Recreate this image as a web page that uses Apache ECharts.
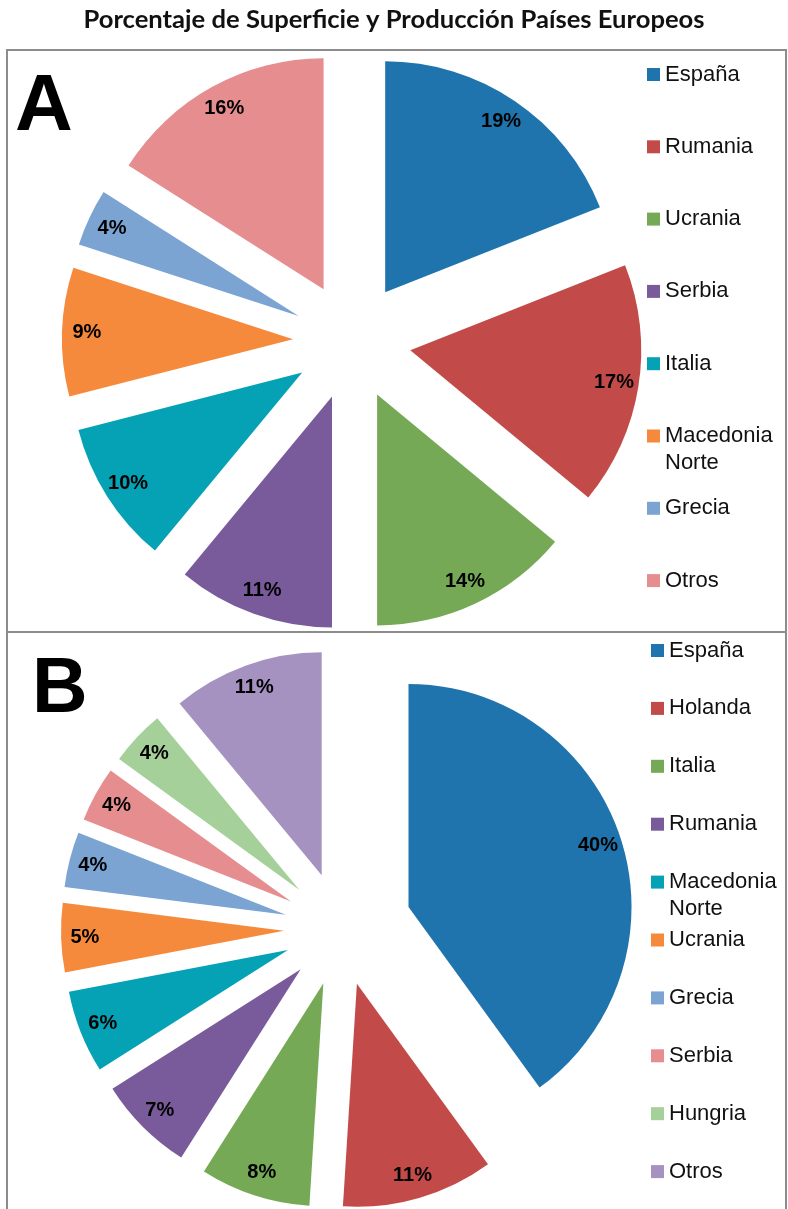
<!DOCTYPE html>
<html>
<head>
<meta charset="utf-8">
<script src="https://cdn.jsdelivr.net/npm/echarts@6/dist/echarts.min.js"></script>
<style>
  html, body { margin: 0; padding: 0; background: #fff; }
  #chart { width: 788px; height: 1209px; }
</style>
</head>
<body>
<div id="chart"></div>
<script>
var titleText = 'Porcentaje de Superficie y Producción Países Europeos';

// Panel A - superficie
var namesA = ['España', 'Rumania', 'Ucrania', 'Serbia', 'Italia', 'Macedonia\nNorte', 'Grecia', 'Otros'];
var valuesA = [19, 17, 14, 11, 10, 9, 4, 16];
var colorsA = ['#1f74ae', '#c24b4a', '#76a955', '#795b9b', '#05a2b6', '#f58a3c', '#7ba4d3', '#e68d90'];

// Panel B - produccion
var namesB = ['España', 'Holanda', 'Italia', 'Rumania', 'Macedonia\nNorte', 'Ucrania', 'Grecia', 'Serbia', 'Hungria', 'Otros'];
var valuesB = [40, 11, 8, 7, 6, 5, 4, 4, 4, 11];
var colorsB = ['#1f74ae', '#c24b4a', '#76a955', '#795b9b', '#05a2b6', '#f58a3c', '#7ba4d3', '#e68d90', '#a5d09a', '#a592c0'];

var labelFont = { color: '#000', fontWeight: 'bold', fontSize: 20, fontFamily: 'Liberation Sans, Arial, sans-serif' };

// two series per slice group: the coloured pieces and a transparent ring that carries the labels
function pieSeries(names, values, colors, keep, center, r, offset) {
    var fill = {
        type: 'pie', center: center, radius: r, startAngle: 90, clockwise: true,
        selectedMode: 'multiple', selectedOffset: offset, silent: true,
        avoidLabelOverlap: false,
        label: { show: false }, labelLine: { show: false },
        emphasis: { disabled: true },
        data: names.map(function (n, i) {
            return { name: n, value: values[i], selected: true,
                itemStyle: { color: keep(i) ? colors[i] : 'rgba(0,0,0,0)' } };
        })
    };
    var labels = {
        type: 'pie', center: center, radius: [r * 0.76, r], startAngle: 90, clockwise: true,
        selectedMode: 'multiple', selectedOffset: offset, silent: true,
        avoidLabelOverlap: false,
        labelLine: { show: false },
        emphasis: { disabled: true },
        itemStyle: { color: 'rgba(0,0,0,0)' },
        data: names.map(function (n, i) {
            return { name: n, value: values[i], selected: true,
                label: Object.assign({ show: keep(i), position: 'inside', formatter: '{c}%' }, labelFont) };
        })
    };
    return [fill, labels];
}

// every legend entry is 3 text lines tall so two-line names keep the first line next to the icon
function legendData(names, colors) {
    return names.map(function (n, i) {
        return {
            name: n,
            itemStyle: { color: colors[i] },
            textStyle: { padding: n.indexOf('\n') >= 0 ? [27, 0, 0, 0] : [27, 0, 27, 0] }
        };
    });
}

var legendText = {
    fontSize: 22, lineHeight: 27, color: '#111', fontFamily: 'Liberation Sans, Arial, sans-serif',
    rich: { t: { fontSize: 22, lineHeight: 27, color: '#111', fontFamily: 'Liberation Sans, Arial, sans-serif' } }
};
function legendFormatter(name) {
    return name.split('\n').map(function (s) { return '{t|' + s + '}'; }).join('\n');
}

var series = []
    .concat(pieSeries(namesA, valuesA, colorsA, function () { return true; }, [352, 341], 231, 59))
    .concat(pieSeries(namesB, valuesB, colorsB, function (i) { return i > 0; }, [341, 929], 223, 57))
    .concat(pieSeries(namesB, valuesB, colorsB, function (i) { return i === 0; }, [341, 929], 223, 71));

var option = {
    animation: false,
    backgroundColor: '#fff',
    title: {
        text: titleText, left: 'center', top: 2,
        textStyle: { fontSize: 25.6, fontWeight: 'bold', color: '#111', fontFamily: 'Lato, Open Sans, sans-serif' }
    },
    legend: [
        {
            orient: 'vertical', left: 647, top: 34, height: 700, padding: 0, itemGap: -8.7,
            itemWidth: 13, itemHeight: 13, icon: 'rect', selectedMode: false,
            formatter: legendFormatter, textStyle: legendText, data: legendData(namesA, colorsA)
        },
        {
            orient: 'vertical', left: 651, top: 610, height: 700, padding: 0, itemGap: -23.1,
            itemWidth: 13, itemHeight: 13, icon: 'rect', selectedMode: false,
            formatter: legendFormatter, textStyle: legendText, data: legendData(namesB, colorsB)
        }
    ],
    graphic: [
        { type: 'rect', shape: { x: 7, y: 50, width: 779, height: 1180 }, style: { fill: 'none', stroke: '#8c8c8c', lineWidth: 2 }, silent: true },
        { type: 'line', shape: { x1: 7, y1: 632, x2: 786, y2: 632 }, style: { stroke: '#8c8c8c', lineWidth: 2 }, silent: true },
        { type: 'text', left: 15, top: 68, style: { text: 'A', font: 'bold 80px Liberation Sans, Arial, sans-serif', fill: '#000' } },
        { type: 'text', left: 32, top: 652, style: { text: 'B', font: 'bold 77px Liberation Sans, Arial, sans-serif', fill: '#000' } }
    ],
    series: series
};

var chart = echarts.init(document.getElementById('chart'));
chart.setOption(option);
</script>
</body>
</html>
